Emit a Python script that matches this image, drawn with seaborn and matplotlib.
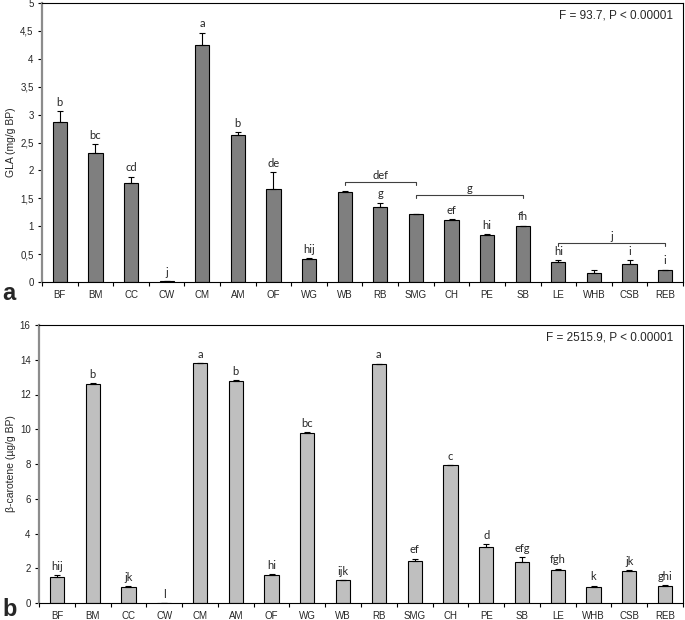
import matplotlib
matplotlib.use("Agg")
import matplotlib.pyplot as plt
import seaborn as sns
import pandas as pd
import numpy as np
from matplotlib.ticker import FixedLocator, FuncFormatter

categories = ["BF", "BM", "CC", "CW", "CM", "AM", "OF", "WG", "WB", "RB",
              "SMG", "CH", "PE", "SB", "LE", "WHB", "CSB", "REB"]

gla_mean = [2.87, 2.32, 1.78, 0.02, 4.24, 2.63, 1.66, 0.42, 1.61, 1.35,
            1.21, 1.12, 0.85, 1.00, 0.35, 0.17, 0.32, 0.21]
gla_err = [0.19, 0.15, 0.11, 0.0, 0.23, 0.05, 0.31, 0.01, 0.02, 0.07,
           0.0, 0.01, 0.01, 0.01, 0.04, 0.04, 0.07, 0.01]
gla_letters = ["b", "bc", "cd", "j", "a", "b", "de", "hij", "", "g",
               "", "ef", "hi", "fh", "hi", "", "i", "i"]
# brackets: (start idx, end idx, level, label)
gla_brackets = [(8, 10, 1.79, "def"), (10, 13, 1.56, "g"), (14, 17, 0.70, "j")]

bc_mean = [1.52, 12.60, 0.94, 0.0, 13.80, 12.80, 1.63, 9.78, 1.30, 13.76,
           2.44, 7.92, 3.20, 2.36, 1.88, 0.94, 1.84, 0.98]
bc_err = [0.08, 0.06, 0.02, 0.0, 0.02, 0.04, 0.03, 0.05, 0.02, 0.02,
          0.11, 0.03, 0.17, 0.27, 0.10, 0.05, 0.06, 0.05]
bc_letters = ["hij", "b", "jk", "l", "a", "b", "hi", "bc", "ijk", "a",
              "ef", "c", "d", "efg", "fgh", "k", "jk", "ghi"]

sns.set_theme(style="white")
plt.rcParams["font.family"] = ["Liberation Sans", "DejaVu Sans"]

fig = plt.figure(figsize=(6.85, 6.2), dpi=100)
ax1 = fig.add_axes([42/685, 1-282/620, 641/685, 279/620])
ax2 = fig.add_axes([39/685, 1-603/620, 644/685, 278/620])

letter_font = dict(family=["Lato", "DejaVu Sans"], fontsize=8)


def draw(ax, mean, err, letters, color, ymax, ystep, ylabel, ftext, fmt):
    df = pd.DataFrame({"cat": categories, "val": mean})
    sns.barplot(data=df, x="cat", y="val", color=color, width=0.4,
                edgecolor="black", linewidth=0.8, saturation=1, ax=ax, zorder=2)
    x = np.arange(len(categories))
    ax.errorbar(x, mean, yerr=[np.zeros(len(err)), err], fmt="none",
                ecolor="black", elinewidth=0.8, capsize=2.5, capthick=0.8, zorder=3)
    ax.set_xlim(-0.5, len(categories) - 0.5)
    ax.set_ylim(0, ymax)
    ax.yaxis.set_major_locator(FixedLocator(np.arange(0, ymax + ystep/2, ystep)))
    ax.yaxis.set_major_formatter(FuncFormatter(fmt))
    ax.set_xlabel("")
    ax.set_ylabel(ylabel, fontsize=7.5, labelpad=3)
    ax.tick_params(axis="x", length=0, labelsize=7, pad=6)
    ax.tick_params(axis="y", length=3, width=0.8, labelsize=7, pad=3, left=True, color="black")
    ax.set_xticks(np.arange(len(categories) + 1) - 0.5, minor=True)
    ax.tick_params(axis="x", which="minor", length=3, width=0.8, bottom=True, color="black")
    for s in ["top", "right", "bottom"]:
        ax.spines[s].set_visible(True)
        ax.spines[s].set_color("black")
        ax.spines[s].set_linewidth(0.8)
    ax.spines["left"].set_color("#8c8c8c")
    ax.spines["left"].set_linewidth(1.6)
    off = ymax * 0.012
    for xi, m, e, lab in zip(x, mean, err, letters):
        if lab:
            ax.text(xi, m + e + off, lab, ha="center", va="bottom", **letter_font)
    ax.text(0.985, 0.975, ftext, transform=ax.transAxes, ha="right", va="top", fontsize=8.5)


draw(ax1, gla_mean, gla_err, gla_letters, "#7f7f7f", 5, 0.5, "GLA (mg/g BP)",
     "F = 93.7, P < 0.00001",
     lambda v, p: ("%g" % v).replace(".", ","))
draw(ax2, bc_mean, bc_err, bc_letters, "#bfbfbf", 16, 2, "β-carotene (µg/g BP)",
     "F = 2515.9, P < 0.00001",
     lambda v, p: "%d" % v)

for i0, i1, lvl, lab in gla_brackets:
    ax1.plot([i0, i0, i1, i1], [lvl - 0.06, lvl, lvl, lvl - 0.06], color="#404040", lw=0.8, zorder=3)
    ax1.text((i0 + i1) / 2, lvl + 0.02, lab, ha="center", va="bottom", **letter_font)

fig.text(2/685, 1-293/620, "a", fontsize=17, fontweight="bold", va="center", ha="left")
fig.text(2/685, 1-609/620, "b", fontsize=17, fontweight="bold", va="center", ha="left")

fig.savefig("out.png", dpi=100)
